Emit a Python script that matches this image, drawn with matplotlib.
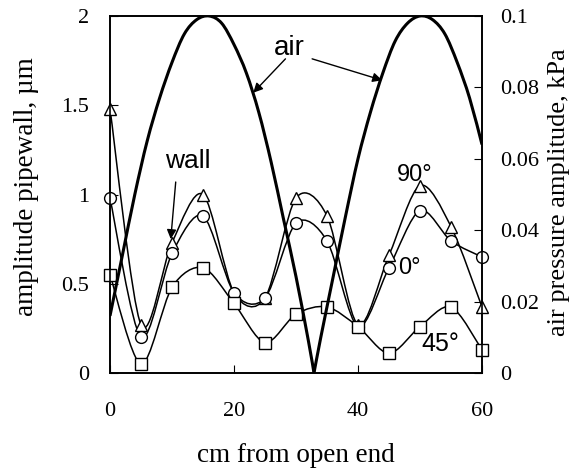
import numpy as np
import matplotlib
matplotlib.use("Agg")
import matplotlib.pyplot as plt
from matplotlib.path import Path
from matplotlib.patches import PathPatch

# measurement positions along the pipe (cm from open end)
pos = [0, 5, 10, 15, 20, 25, 30, 35, 40, 45, 50, 55, 60]
wall_90 = [1.48, 0.27, 0.73, 1.00, 0.45, 0.42, 0.98, 0.88, 0.27, 0.66, 1.05, 0.82, 0.37]
wall_0 = [0.98, 0.20, 0.67, 0.88, 0.45, 0.42, 0.84, 0.74, 0.26, 0.59, 0.91, 0.74, 0.65]
wall_45 = [0.55, 0.05, 0.48, 0.59, 0.39, 0.17, 0.33, 0.37, 0.26, 0.11, 0.26, 0.37, 0.13]

# air pressure amplitude (kPa); the node is at 32.9 cm
air_x = [0, 2, 4, 6, 8, 10, 12, 14, 16, 18, 20, 22, 24, 26, 28, 30, 32, 32.9,
         34, 36, 38, 40, 42, 44, 46, 48, 50, 52, 54, 56, 58, 60]
air_p = [0.016, 0.033, 0.050, 0.065, 0.077, 0.087, 0.095, 0.099, 0.100, 0.098,
         0.092, 0.084, 0.073, 0.059, 0.043, 0.027, 0.009, 0.0, 0.010, 0.027,
         0.044, 0.060, 0.073, 0.084, 0.093, 0.098, 0.100, 0.099, 0.095, 0.087,
         0.077, 0.064]
air_node = 17  # index of the zero point

serif = "Liberation Serif"
sans = "Liberation Sans"


def smooth_path(x, y, t=0.15):
    # Excel-like smoothed line: cubic bezier segments through the points
    x = np.asarray(x, float)
    y = np.asarray(y, float)
    n = len(x)
    verts = [(x[0], y[0])]
    codes = [Path.MOVETO]
    for i in range(n - 1):
        p0 = (x[i - 1], y[i - 1]) if i > 0 else (x[i], y[i])
        p3 = (x[i + 2], y[i + 2]) if i + 2 < n else (x[i + 1], y[i + 1])
        c1 = (x[i] + (x[i + 1] - p0[0]) * t, y[i] + (y[i + 1] - p0[1]) * t)
        c2 = (x[i + 1] - (p3[0] - x[i]) * t, y[i + 1] - (p3[1] - y[i]) * t)
        verts += [c1, c2, (x[i + 1], y[i + 1])]
        codes += [Path.CURVE4] * 3
    return Path(verts, codes)


fig = plt.figure(figsize=(5.72, 4.74), dpi=100)
ax = fig.add_axes([110 / 572, 1 - 373 / 474, 372 / 572, 357 / 474])
ax2 = ax.twinx()

for vals, mk in [(wall_90, "^"), (wall_0, "o"), (wall_45, "s")]:
    ax.add_patch(PathPatch(smooth_path(pos, vals), fill=False, lw=1.1,
                           edgecolor="black", zorder=3))
    ax.plot(pos, vals, linestyle="none", marker=mk, markersize=8.5,
            markerfacecolor="white", markeredgecolor="black",
            markeredgewidth=1.0, zorder=4, clip_on=False)

# air curve: smooth on each side of the node, sharp at the node itself
for sl in (slice(0, air_node + 1), slice(air_node, None)):
    ax2.add_patch(PathPatch(smooth_path(air_x[sl], air_p[sl], t=1 / 6.0),
                            fill=False, lw=2.2, edgecolor="black", zorder=3,
                            joinstyle="miter"))

ax.set_xlim(0, 60)
ax.set_ylim(0, 2)
ax2.set_ylim(0, 0.1)

ax.set_xticks([0, 20, 40, 60])
ax.set_xticklabels(["0", "20", "40", "60"])
ax.set_yticks([0, 0.5, 1, 1.5, 2])
ax.set_yticklabels(["0", "0.5", "1", "1.5", "2"])
ax2.set_yticks([0, 0.02, 0.04, 0.06, 0.08, 0.1])
ax2.set_yticklabels(["0", "0.02", "0.04", "0.06", "0.08", "0.1"])

ax.tick_params(axis="x", direction="in", length=6, pad=21, labelsize=16)
ax.tick_params(axis="y", direction="in", length=6, pad=15, labelsize=16)
ax2.tick_params(axis="y", direction="in", length=6, pad=13, labelsize=16)
for a in (ax, ax2):
    for lab in a.get_xticklabels() + a.get_yticklabels():
        lab.set_fontfamily(serif)
    for sp in a.spines.values():
        sp.set_linewidth(1.2)

fig.text(27 / 572, 1 - 187 / 474, "amplitude pipewall, \u00b5m", rotation=90,
         ha="center", va="center", fontsize=19.5, family=serif)
fig.text(559 / 572, 1 - 192 / 474, "air pressure amplitude, kPa", rotation=90,
         ha="center", va="center", fontsize=19, family=serif)
fig.text(296 / 572, 1 - 455 / 474, "cm from open end",
         ha="center", va="center", fontsize=19.5, family=serif)

# annotations
arrow = dict(arrowstyle="-|>", color="black", lw=1.0, mutation_scale=14,
             shrinkA=0, shrinkB=0)
ax.text(29, 1.82, "air", ha="center", va="center", fontsize=20, family=sans)
ax.annotate("", xy=(23.1, 1.57), xytext=(28.3, 1.76), arrowprops=arrow)
ax.annotate("", xy=(43.9, 1.64), xytext=(32.6, 1.76), arrowprops=arrow)
ax.text(12.6, 1.19, "wall", ha="center", va="center", fontsize=19, family=sans)
ax.annotate("", xy=(9.8, 0.75), xytext=(10.6, 1.07), arrowprops=arrow)
ax.text(49.2, 1.11, "90\u00b0", ha="center", va="center", fontsize=17, family=sans)
ax.text(48.3, 0.59, "0\u00b0", ha="center", va="center", fontsize=17, family=sans)
ax.text(53.2, 0.16, "45\u00b0", ha="center", va="center", fontsize=18, family=sans)

fig.savefig("out.png", dpi=100)
